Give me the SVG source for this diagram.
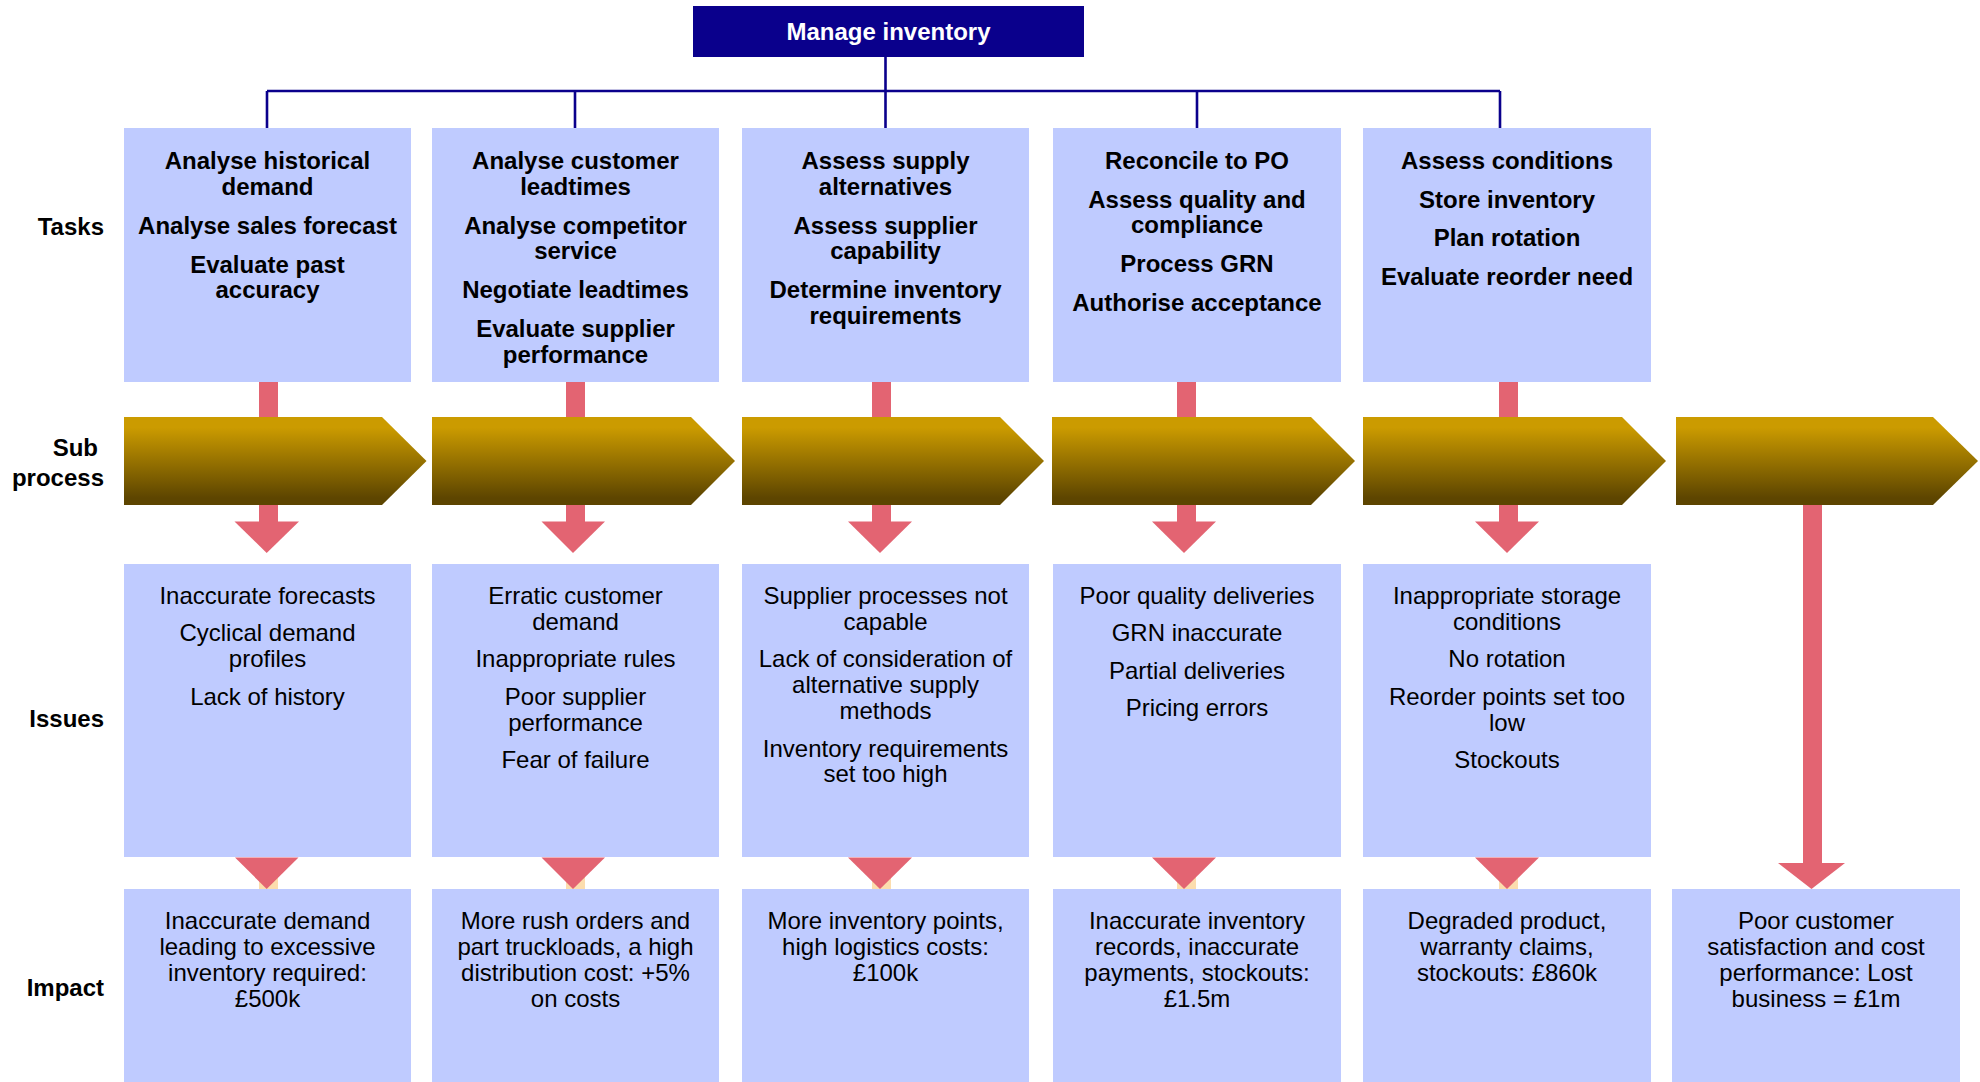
<svg xmlns="http://www.w3.org/2000/svg" width="1980" height="1082" viewBox="0 0 1980 1082">
<style>
text{font-family:"Liberation Sans",Arial,Helvetica,sans-serif;font-size:24px;fill:#000;text-anchor:middle}
.b{font-weight:bold}
.lbl{font-weight:bold;text-anchor:end}
.box{fill:#BFCBFF}
.line{stroke:#0A008C;stroke-width:2.6;fill:none}
.pink{fill:#E36472}
.beige{fill:#FCDDAE}
.chev{fill:url(#g)}
.top{fill:#0A008C}
.wt{fill:#fff;font-weight:bold}
</style>
<defs>
<linearGradient id="g" x1="0" y1="0" x2="0" y2="1">
<stop offset="0.12" stop-color="#CB9B00"/>
<stop offset="0.92" stop-color="#5D4500"/>
</linearGradient>
</defs>
<rect width="1980" height="1082" fill="#fff"/>

<g id="labels">
<text class="lbl" x="104" y="235">Tasks</text>
<text class="lbl" x="98" y="456">Sub</text>
<text class="lbl" x="104" y="486">process</text>
<text class="lbl" x="104" y="727">Issues</text>
<text class="lbl" x="104" y="996">Impact</text>
</g>

<g id="connectors">
<path class="line" d="M885.5 57V91M267 91H1500M267 91V128M575 91V128M885.5 91V128M1197 91V128M1500 91V128"/>
<rect class="pink" x="259" y="381" width="19" height="37"/>
<rect class="pink" x="566" y="381" width="19" height="37"/>
<rect class="pink" x="872" y="381" width="19" height="37"/>
<rect class="pink" x="1177" y="381" width="19" height="37"/>
<rect class="pink" x="1499" y="381" width="19" height="37"/>
<rect class="pink" x="259" y="504" width="19" height="18"/>
<rect class="pink" x="566" y="504" width="19" height="18"/>
<rect class="pink" x="872" y="504" width="19" height="18"/>
<rect class="pink" x="1177" y="504" width="19" height="18"/>
<rect class="pink" x="1499" y="504" width="19" height="18"/>
<path class="pink" d="M234.5 521.5H299L266.7 553Z"/>
<path class="pink" d="M541.5 521.5H605L573 553Z"/>
<path class="pink" d="M848 521.5H912L880 553Z"/>
<path class="pink" d="M1152 521.5H1216L1184 553Z"/>
<path class="pink" d="M1475 521.5H1539L1507 553Z"/>
<rect class="beige" x="259" y="872" width="19" height="17"/>
<rect class="beige" x="566" y="872" width="19" height="17"/>
<rect class="beige" x="872" y="872" width="19" height="17"/>
<rect class="beige" x="1177" y="872" width="19" height="17"/>
<rect class="beige" x="1499" y="872" width="19" height="17"/>
<path class="pink" d="M235 857.5H298.5L266.7 889Z"/>
<path class="pink" d="M541.5 857.5H605L573 889Z"/>
<path class="pink" d="M848 857.5H912L880 889Z"/>
<path class="pink" d="M1152 857.5H1216L1184 889Z"/>
<path class="pink" d="M1475 857.5H1539L1507 889Z"/>
<rect class="pink" x="1803" y="504" width="19" height="361"/>
<path class="pink" d="M1778 863H1845L1811.5 889Z"/>
</g>

<g id="root">
<rect class="top" x="693" y="6" width="391" height="51"/>
<text class="wt" x="888.5" y="40">Manage inventory</text>
</g>

<g id="task1">
<rect class="box" x="124" y="128" width="287" height="254"/>
<text class="b" x="267.5" y="169">Analyse historical</text>
<text class="b" x="267.5" y="194.5">demand</text>
<text class="b" x="267.5" y="233.5">Analyse sales forecast</text>
<text class="b" x="267.5" y="272.5">Evaluate past</text>
<text class="b" x="267.5" y="298">accuracy</text>
</g>
<g id="task2">
<rect class="box" x="432" y="128" width="287" height="254"/>
<text class="b" x="575.5" y="169">Analyse customer</text>
<text class="b" x="575.5" y="194.5">leadtimes</text>
<text class="b" x="575.5" y="233.5">Analyse competitor</text>
<text class="b" x="575.5" y="259">service</text>
<text class="b" x="575.5" y="298">Negotiate leadtimes</text>
<text class="b" x="575.5" y="337">Evaluate supplier</text>
<text class="b" x="575.5" y="362.5">performance</text>
</g>
<g id="task3">
<rect class="box" x="742" y="128" width="287" height="254"/>
<text class="b" x="885.5" y="169">Assess supply</text>
<text class="b" x="885.5" y="194.5">alternatives</text>
<text class="b" x="885.5" y="233.5">Assess supplier</text>
<text class="b" x="885.5" y="259">capability</text>
<text class="b" x="885.5" y="298">Determine inventory</text>
<text class="b" x="885.5" y="323.5">requirements</text>
</g>
<g id="task4">
<rect class="box" x="1053" y="128" width="288" height="254"/>
<text class="b" x="1197" y="169">Reconcile to PO</text>
<text class="b" x="1197" y="207.5">Assess quality and</text>
<text class="b" x="1197" y="233">compliance</text>
<text class="b" x="1197" y="272">Process GRN</text>
<text class="b" x="1197" y="311">Authorise acceptance</text>
</g>
<g id="task5">
<rect class="box" x="1363" y="128" width="288" height="254"/>
<text class="b" x="1507" y="169">Assess conditions</text>
<text class="b" x="1507" y="207.5">Store inventory</text>
<text class="b" x="1507" y="246">Plan rotation</text>
<text class="b" x="1507" y="285">Evaluate reorder need</text>
</g>

<g id="sub1"><path class="chev" d="M124 417H382L426.5 461L382 505H124Z"/></g>
<g id="sub2"><path class="chev" d="M432 417H691L735 461L691 505H432Z"/></g>
<g id="sub3"><path class="chev" d="M742 417H1000L1044 461L1000 505H742Z"/></g>
<g id="sub4"><path class="chev" d="M1052 417H1311L1355 461L1311 505H1052Z"/></g>
<g id="sub5"><path class="chev" d="M1363 417H1622L1666 461L1622 505H1363Z"/></g>
<g id="sub6"><path class="chev" d="M1676 417H1933L1978 461L1933 505H1676Z"/></g>

<g id="issue1">
<rect class="box" x="124" y="564" width="287" height="293"/>
<text x="267.5" y="604">Inaccurate forecasts</text>
<text x="267.5" y="641">Cyclical demand</text>
<text x="267.5" y="667">profiles</text>
<text x="267.5" y="705">Lack of history</text>
</g>
<g id="issue2">
<rect class="box" x="432" y="564" width="287" height="293"/>
<text x="575.5" y="604">Erratic customer</text>
<text x="575.5" y="630">demand</text>
<text x="575.5" y="667">Inappropriate rules</text>
<text x="575.5" y="705">Poor supplier</text>
<text x="575.5" y="731">performance</text>
<text x="575.5" y="768">Fear of failure</text>
</g>
<g id="issue3">
<rect class="box" x="742" y="564" width="287" height="293"/>
<text x="885.5" y="604">Supplier processes not</text>
<text x="885.5" y="630">capable</text>
<text x="885.5" y="667">Lack of consideration of</text>
<text x="885.5" y="693">alternative supply</text>
<text x="885.5" y="719">methods</text>
<text x="885.5" y="757">Inventory requirements</text>
<text x="885.5" y="782">set too high</text>
</g>
<g id="issue4">
<rect class="box" x="1053" y="564" width="288" height="293"/>
<text x="1197" y="604">Poor quality deliveries</text>
<text x="1197" y="641">GRN inaccurate</text>
<text x="1197" y="678.5">Partial deliveries</text>
<text x="1197" y="716">Pricing errors</text>
</g>
<g id="issue5">
<rect class="box" x="1363" y="564" width="288" height="293"/>
<text x="1507" y="604">Inappropriate storage</text>
<text x="1507" y="630">conditions</text>
<text x="1507" y="667">No rotation</text>
<text x="1507" y="705">Reorder points set too</text>
<text x="1507" y="731">low</text>
<text x="1507" y="768">Stockouts</text>
</g>

<g id="impact1">
<rect class="box" x="124" y="889" width="287" height="193"/>
<text x="267.5" y="929">Inaccurate demand</text>
<text x="267.5" y="955">leading to excessive</text>
<text x="267.5" y="981">inventory required:</text>
<text x="267.5" y="1007">£500k</text>
</g>
<g id="impact2">
<rect class="box" x="432" y="889" width="287" height="193"/>
<text x="575.5" y="929">More rush orders and</text>
<text x="575.5" y="955">part truckloads, a high</text>
<text x="575.5" y="981">distribution cost: +5%</text>
<text x="575.5" y="1007">on costs</text>
</g>
<g id="impact3">
<rect class="box" x="742" y="889" width="287" height="193"/>
<text x="885.5" y="929">More inventory points,</text>
<text x="885.5" y="955">high logistics costs:</text>
<text x="885.5" y="981">£100k</text>
</g>
<g id="impact4">
<rect class="box" x="1053" y="889" width="288" height="193"/>
<text x="1197" y="929">Inaccurate inventory</text>
<text x="1197" y="955">records, inaccurate</text>
<text x="1197" y="981">payments, stockouts:</text>
<text x="1197" y="1007">£1.5m</text>
</g>
<g id="impact5">
<rect class="box" x="1363" y="889" width="288" height="193"/>
<text x="1507" y="929">Degraded product,</text>
<text x="1507" y="955">warranty claims,</text>
<text x="1507" y="981">stockouts: £860k</text>
</g>
<g id="impact6">
<rect class="box" x="1672" y="889" width="288" height="193"/>
<text x="1816" y="929">Poor customer</text>
<text x="1816" y="955">satisfaction and cost</text>
<text x="1816" y="981">performance: Lost</text>
<text x="1816" y="1007">business = £1m</text>
</g>
</svg>
